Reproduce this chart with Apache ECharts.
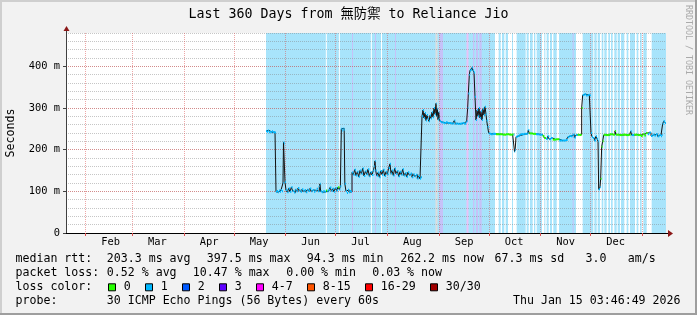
<!DOCTYPE html>
<html><head><meta charset="utf-8">
<script src="https://cdn.jsdelivr.net/npm/echarts@6/dist/echarts.min.js"></script>
<style>html,body{margin:0;padding:0;background:#f2f2f2}#c{width:697px;height:315px}</style>
</head><body><div id="c"></div>
<script>
// ---------------- data ----------------
const TITLE = 'Last 360 Days from 無防禦 to Reliance Jio';
const START_UTC = Date.UTC(2025, 0, 20, 3, 46, 49);
const SPAN_DAYS = 360;
const monthStartDates = ['2025-02-01','2025-03-01','2025-04-01','2025-05-01','2025-06-01','2025-07-01','2025-08-01','2025-09-01','2025-10-01','2025-11-01','2025-12-01','2026-01-01'];
const monthNames = ['Feb','Mar','Apr','May','Jun','Jul','Aug','Sep','Oct','Nov','Dec','Jan'];
const yTickValues = [0, 100, 200, 300, 400];
const yTickLabels = ['0', '100 m', '200 m', '300 m', '400 m'];
const Y_MAX = 480;
const Y_MINOR = 20;

// median rtt (days since window start, milliseconds)
const medianPoints = [
 [120,245],[120.6,243],[121.2,246],[121.8,242],[122.4,243],[123,242],[123.6,244],[124.2,242],[124.8,242],[125.4,241],
 [126,99],[126.6,101],[127.2,98],[127.8,102],[128.4,99],[129,103],[129.6,100],
 [130.2,120],[130.5,218],[131,215],[131.4,122],[132,103],[132.8,98],[133.6,107],[134.4,99],[135.2,110],[136,101],[136.8,97],
 [137.6,104],[138.4,100],[139.2,108],[140,102],[140.8,99],[141.6,105],[142.4,100],[143.2,103],[144,98],[144.8,104],[145.6,101],
 [146.4,107],[147.2,100],[148,103],[148.8,99],[149.6,102],[150.4,106],[151.2,100],[152,112],[152.4,118],[152.8,100],[153.6,98],
 [154.4,101],[155.2,99],[156,102],[156.8,100],[157.6,104],[158.4,109],[159.2,101],[160,106],[160.8,99],[161.6,108],[162.4,102],
 [163.2,110],[164,104],[164.6,112],
 [165.2,250],[165.8,246],[166.4,251],[166.9,248],[167.3,118],[168,100],[168.6,96],[169.2,104],[169.8,98],[170.4,101],[171,99],
 [171.6,145],[172.4,140],[173.2,152],[174,138],[174.8,147],[175.6,135],[176.4,150],[177.2,142],[178,155],[178.8,137],[179.6,148],
 [180.4,141],[181.2,153],[182,136],[182.8,146],[183.6,139],[184.4,150],[185,160],[185.4,173],[185.8,150],[186.4,138],[187.2,145],
 [188,134],[188.8,149],[189.6,140],[190.4,152],[191.2,137],[192,147],[192.8,141],[193.6,156],[194.4,166],[195,143],[195.6,150],
 [196.4,138],[197.2,155],[198,142],[198.8,149],[199.6,136],[200.4,147],[201.2,140],[202,153],[202.8,138],[203.6,144],[204.4,135],
 [205.2,146],[206,139],[206.8,143],[207.6,134],[208.4,141],[209.2,136],[210,140],[210.8,131],[211.6,137],[212.4,130],[213,134],
 [213.6,280],[214.2,295],[214.8,276],[215.4,288],[216,270],[216.6,283],[217.2,274],[217.8,268],[218.4,282],[219,275],[219.6,290],
 [220.2,278],[220.8,300],[221.4,285],[222,311],[222.4,280],[222.8,298],[223.2,272],[223.6,290],[224,275],[224.4,268],
 [225,266],[226,265],[227,264],[228,266],[229,264],[230,264],[231,263],[232,263],[233,270],[233.6,262],[234,263],[235,262],
 [236,262],[237,263],[238,264],[239,262],[240,265],[240.4,268],
 [241,300],[241.4,335],[242,380],[242.4,390],[243,392],[243.6,397],[244.2,390],[244.8,385],[245.4,327],[246,271],
 [246.6,295],[247.2,280],[247.8,300],[248.4,276],[249,292],[249.6,271],[250.2,298],[250.8,283],[251.4,303],[252,285],[252.4,270],
 [253,255],[253.6,240],[254,238],
 [255,237],[256,238],[258,237],[260,237],[262,236],[264,237],[266,236],[268,237],[268.6,236],
 [269.1,195],[269.5,200],[270,231],[271,233],[272,236],[273,237],[275,238],[277,240],[277.4,247],[278,239],[280,238],[282,237],
 [284,236],[286,233],[287,228],[288,226],[289,232],[290,225],[291,228],[292,224],[294,225],[296,222],[298,222],[300,223],
 [301,230],[302,233],[303,232],[304,236],[305,229],[306,235],[307,236],[308,235],
 [309,236],[309.4,300],[310,331],[311,333],[312,330],[313,331],[314,332],[314.6,330],[315,240],[315.6,231],[316.2,228],[317,222],
 [318,232],[318.6,226],[319.2,220],[319.6,105],[320.4,110],[320.8,130],[321.4,207],[322,220],[322.6,235],
 [323,236],[324,235],[326,237],[328,236],[329.4,245],[330,236],[332,235],[334,236],[336,235],[338,236],[338.8,244],[339.4,235],
 [341,236],[343,235],[345,233],[346,237],[347,234],[348,240],[349,237],[350,241],[351,233],[352,236],[353,234],[354,237],
 [355,232],[356,235],[357,232],[357.6,235],[358,262],[358.6,268],[359.4,264],[360,265]
];
// periods (days) whose loss was 0 ; everything else was 1/30
const greenRanges = [[155.6,156.6],[163.2,164],[257.4,268.4],[278,281],[285,288],[292,295],[307,309.6],[320.5,338.4],[340,348.4]];
const lossLabels = ['0','1','2','3','4-7','8-15','16-29','30/30'];
const lossColors = ['#26ff00','#00b8ff','#0059ff','#5e00ff','#ff00ff','#ff5500','#ff0000','#a10000'];

// background status bands (days)
const blueBands = [[120,360]];
const whiteGaps = [[155.9,156.5],[163.7,164.3],[182.9,183.5],[189,189.6],[257.4,259.6],[260.8,261.6],[263,263.8],[265.2,267.6],
 [268.2,270.4],[275.8,276.4],[277.6,278.4],[280,280.8],[281.6,282.4],[285.6,287],[287.6,288.4],[289.6,290.4],[291.6,292.4],
 [294.4,295.8],[306,310],[316.4,317],[318.4,319],[320.4,321.4],[322.4,323],[324.4,325.4],[326.4,327],[328,329],[330.4,331],
 [332.4,333],[335,336.4],[337.4,338.4],[341.4,342.4],[343.4,344.4],[345.4,346.4],[348.4,351.4]];
const grayBands = [[221.7,222.9]];
const lavenderBands = [[171.6,172.2],[185.4,186],[197.4,198],[224.1,226.2],[244.2,245],[246,247.2],[248,249.4],[304,304.6]];
const pinkBands = [[240.3,241.5]];

const rttStats = ['203.3 ms avg','397.5 ms max','94.3 ms min','262.2 ms now','67.3 ms sd','3.0','am/s'];
const lossStats = ['0.52 % avg','10.47 % max','0.00 % min','0.03 % now'];
const probeText = '30 ICMP Echo Pings (56 Bytes) every 60s';
const stampText = 'Thu Jan 15 03:46:49 2026';
const watermark = 'RRDTOOL / TOBI OETIKER';

// ---------------- derived ----------------
const DAY = 86400000;
const monthBoundaries = monthStartDates.map(d => (Date.parse(d + 'T00:00:00Z') - START_UTC) / DAY);
const labelDays = [], labelNames = [];
monthBoundaries.forEach((b, i) => { const m = b + 15; if (m > 0 && m < SPAN_DAYS) { labelDays.push(m); labelNames.push(monthNames[i]); } });

function lossAt(d) { return greenRanges.some(r => d >= r[0] && d < r[1]) ? 0 : 1; }
const segData = medianPoints.map((p, i) => {
  const next = i + 1 < medianPoints.length ? medianPoints[i + 1][0] : SPAN_DAYS;
  return [p[0], next, p[1], lossAt(p[0])];
});
const bandColors = ['#a8e4fb', '#ffffff', '#dedede', '#c6c2f8', '#e9c2f6'];
const bandData = [];
[blueBands, whiteGaps, grayBands, lavenderBands, pinkBands].forEach((arr, k) => arr.forEach(b => bandData.push([b[0], b[1], k])));

// ---------------- layout ----------------
const G = { left: 66, top: 33, width: 600, height: 200 };
const MONO = '"DejaVu Sans Mono", "Noto Sans CJK TC", monospace';
const FL = '11.6px ' + MONO;
const W = 697, H = 315;

function txt(x, y, text, opts) {
  opts = opts || {};
  return { type: 'text', x: x, y: y, rotation: opts.rotation || 0, z: 20,
    style: { text: text, font: opts.font || FL, fill: opts.fill || '#000',
      textAlign: opts.align || 'left', textVerticalAlign: 'middle', align: opts.align || 'left', verticalAlign: 'middle' } };
}
const graphics = [];
// frame shading
graphics.push({ type: 'rect', shape: { x: 0, y: 0, width: W, height: 2 }, style: { fill: '#cfcfcf' }, z: 20 });
graphics.push({ type: 'rect', shape: { x: 0, y: 0, width: 2, height: H }, style: { fill: '#cfcfcf' }, z: 20 });
graphics.push({ type: 'rect', shape: { x: 0, y: H - 2, width: W, height: 2 }, style: { fill: '#9e9e9e' }, z: 20 });
graphics.push({ type: 'rect', shape: { x: W - 2, y: 0, width: 2, height: H }, style: { fill: '#9e9e9e' }, z: 20 });
// title & unit & watermark
graphics.push(txt(348.5, 14.3, TITLE, { font: '13.3px ' + MONO, align: 'center' }));
graphics.push(txt(10.5, G.top + G.height / 2, 'Seconds', { rotation: Math.PI / 2, align: 'center' }));
graphics.push(txt(688.5, 5, watermark, { rotation: -Math.PI / 2, font: '8.3px ' + MONO, fill: '#aaaaaa' }));
// arrows
const xr = G.left + G.width, yb = G.top + G.height;
graphics.push({ type: 'line', shape: { x1: xr, y1: yb + 0.5, x2: xr + 3, y2: yb + 0.5 }, style: { stroke: '#000', lineWidth: 1 }, z: 20 });
graphics.push({ type: 'polygon', shape: { points: [[xr + 2, yb - 3], [xr + 7, yb + 0.5], [xr + 2, yb + 4]] }, style: { fill: '#8b1818' }, z: 20 });
graphics.push({ type: 'line', shape: { x1: G.left + 0.5, y1: G.top, x2: G.left + 0.5, y2: G.top - 3 }, style: { stroke: '#404040', lineWidth: 1 }, z: 20 });
graphics.push({ type: 'polygon', shape: { points: [[G.left - 2.5, G.top - 2], [G.left + 0.5, G.top - 7], [G.left + 3.5, G.top - 2]] }, style: { fill: '#8b1818' }, z: 20 });
// legend lines
const L1 = 259.3, L2 = 273.3, L3 = 287.3, L4 = 301.3;
graphics.push(txt(15.5, L1, 'median rtt:'));
[106.8, 206.8, 306.8, 400.2, 494.5, 585.5, 627.8].forEach((x, i) => graphics.push(txt(x, L1, rttStats[i])));
graphics.push(txt(15.5, L2, 'packet loss:'));
[106.8, 192.8, 286.2, 372.2].forEach((x, i) => graphics.push(txt(x, L2, lossStats[i])));
graphics.push(txt(15.5, L3, 'loss color:'));
let bx = 108.5;
lossLabels.forEach((lab, i) => {
  graphics.push({ type: 'rect', shape: { x: bx, y: L3 - 3.5, width: 7, height: 7 }, style: { fill: lossColors[i], stroke: '#000', lineWidth: 1 }, z: 20 });
  graphics.push(txt(bx + 15.3, L3, lab));
  bx += 30 + 7 * lab.length;
});
graphics.push(txt(15.5, L4, 'probe:'));
graphics.push(txt(106.8, L4, probeText));
graphics.push(txt(680.5, L4, stampText, { align: 'right' }));

const chart = echarts.init(document.getElementById('c'), null, { renderer: 'canvas' });
chart.setOption({
  animation: false,
  backgroundColor: '#f2f2f2',
  grid: Object.assign({ backgroundColor: '#ffffff', show: true, borderWidth: 0 }, G),
  xAxis: {
    type: 'value', min: 0, max: SPAN_DAYS, z: 3,
    axisLine: { show: true, lineStyle: { color: '#000', width: 1 } },
    axisTick: { show: true, customValues: monthBoundaries, length: 3, lineStyle: { color: '#de5050' } },
    axisLabel: { customValues: labelDays, formatter: v => { const i = labelDays.findIndex(d => Math.abs(d - v) < 1e-6); return i >= 0 ? labelNames[i] : ''; },
      margin: 4, color: '#000', fontFamily: MONO, fontSize: 10.4 },
    splitLine: { show: true, lineStyle: { color: 'rgba(222,80,80,0.5)', type: [1, 1], width: 1 } }
  },
  yAxis: [{
    type: 'value', min: 0, max: Y_MAX, z: 3,
    axisLine: { show: true, lineStyle: { color: '#404040', width: 1 } },
    axisTick: { show: true, customValues: yTickValues, length: 3, lineStyle: { color: '#404040' } },
    axisLabel: { customValues: yTickValues, formatter: v => yTickLabels[yTickValues.indexOf(v)], margin: 6, color: '#000', fontFamily: MONO, fontSize: 10.4 },
    splitLine: { show: true, lineStyle: { color: 'rgba(222,80,80,0.5)', type: [1, 1], width: 1 } }
  }, {
    type: 'value', min: 0, max: Y_MAX, interval: Y_MINOR, z: 2,
    axisLine: { show: false }, axisTick: { show: false }, axisLabel: { show: false },
    splitLine: { show: true, lineStyle: { color: 'rgba(128,128,128,0.45)', type: [1, 1], width: 1 } }
  }],
  series: [{
    type: 'custom', z: 1, clip: true, silent: true,
    data: bandData, encode: { x: [0, 1] },
    renderItem: (params, api) => {
      const p0 = api.coord([api.value(0), Y_MAX]);
      const p1 = api.coord([api.value(1), 0]);
      return { type: 'rect', shape: { x: p0[0], y: p0[1], width: p1[0] - p0[0], height: p1[1] - p0[1] }, style: { fill: bandColors[api.value(2)] } };
    }
  }, {
    type: 'line', z: 5, data: medianPoints, step: 'end', showSymbol: false, symbol: 'none', silent: true,
    lineStyle: { color: '#111', width: 1 }
  }, {
    type: 'custom', z: 6, clip: true, silent: true,
    data: segData, encode: { x: [0, 1], y: 2 },
    renderItem: (params, api) => {
      const p0 = api.coord([api.value(0), api.value(2)]);
      const p1 = api.coord([api.value(1), api.value(2)]);
      return { type: 'line', shape: { x1: p0[0], y1: p0[1], x2: p1[0], y2: p1[1] }, style: { stroke: lossColors[api.value(3)], lineWidth: 2 } };
    }
  }],
  graphic: graphics
});
</script></body></html>
